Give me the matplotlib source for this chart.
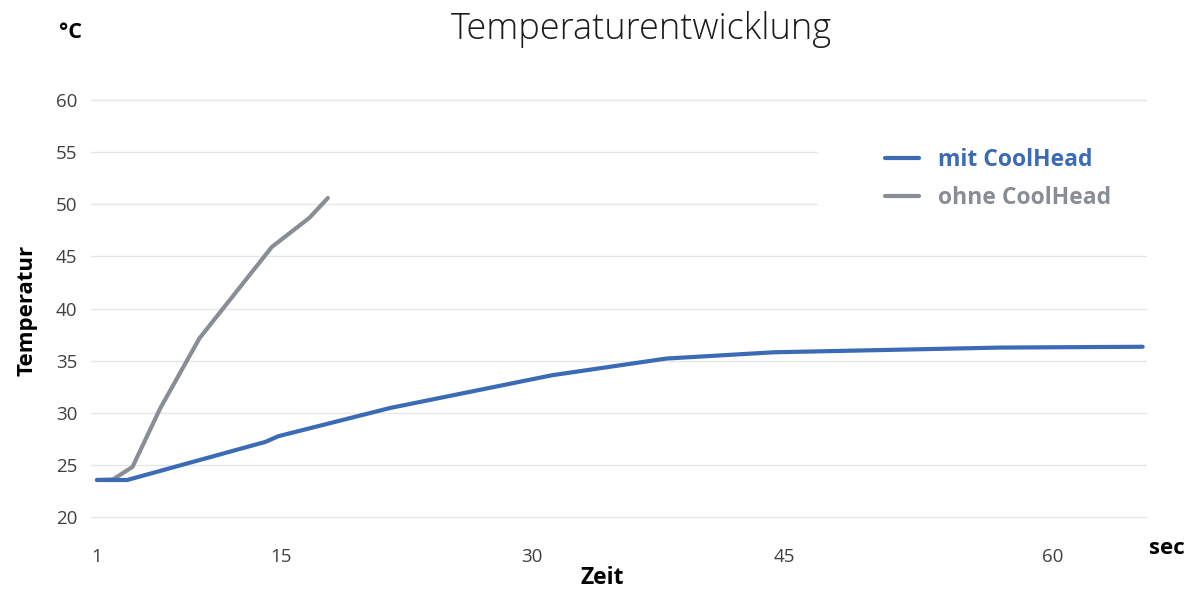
import numpy as np
import matplotlib
matplotlib.use("Agg")
import matplotlib.pyplot as plt
from matplotlib.patches import Rectangle

# ---- data ----
title = "Temperaturentwicklung"
series_names = ["mit CoolHead", "ohne CoolHead"]
time_mit = [1, 3.3, 13.8, 14.8, 21.5, 31.2, 38.0, 44.4, 57.0, 65.0]
temp_mit = [23.55, 23.55, 27.2, 27.75, 30.45, 33.6, 35.2, 35.8, 36.25, 36.33]
time_ohne = [1, 2.2, 3.7, 5.8, 8.8, 14.3, 16.7, 17.8]
temp_ohne = [23.55, 23.6, 24.8, 30.4, 37.15, 45.9, 48.7, 50.6]
x_ticks = [1, 15, 30, 45, 60]
y_ticks = [20, 25, 30, 35, 40, 45, 50, 55, 60]

# ---- uneven category-like time axis (tick label spacing as in original) ----
_kv = np.array([-20, 1, 15, 30, 45, 60, 120], dtype=float)
_kp = np.array([97 - 21 * 13.14, 97, 281, 532, 784, 1053, 1053 + 60 * 17.93])

def fwd(x):
    return np.interp(x, _kv, _kp)

def inv(p):
    return np.interp(p, _kp, _kv)

BLUE = "#3A6BB4"
GREY = "#898D95"
GRID = "#E6E6E6"
TXT = "#404040"

fig = plt.figure(figsize=(11.88, 5.92), dpi=100)
ax = fig.add_axes([91 / 1188, 1 - 517 / 592, (1146 - 91) / 1188, (517 - 100) / 592])
ax.set_xscale("function", functions=(fwd, inv))

for s in ax.spines.values():
    s.set_visible(False)

ax.set_ylim(20, 60)
ax.set_xlim(float(inv(91)), float(inv(1146)))
ax.set_yticks(y_ticks)
ax.set_xticks(x_ticks)
ax.set_xticklabels([str(t) for t in x_ticks])
ax.tick_params(axis="both", length=0, labelsize=13.5, labelcolor=TXT)
ax.tick_params(axis="y", pad=10)
ax.tick_params(axis="x", pad=22)
for lab in ax.get_xticklabels() + ax.get_yticklabels():
    lab.set_fontfamily("Open Sans")
ax.yaxis.grid(True, color=GRID, lw=1, zorder=0)
for gl in ax.get_ygridlines():
    gl.set_clip_on(False)
ax.set_axisbelow(True)

# white legend background covering gridlines
ax.add_patch(Rectangle((0.689, 0.724), 0.32, 0.25, transform=ax.transAxes,
                       facecolor="white", edgecolor="none", zorder=1, clip_on=False))

l2, = ax.plot(time_ohne, temp_ohne, color=GREY, lw=3, solid_capstyle="round",
              solid_joinstyle="round", zorder=3, label=series_names[1])
l1, = ax.plot(time_mit, temp_mit, color=BLUE, lw=3, solid_capstyle="round",
              solid_joinstyle="round", zorder=4, label=series_names[0])

leg = ax.legend(handles=[l1, l2], loc="upper left",
                bbox_to_anchor=(878 / 1188, 1 - 141 / 592), bbox_transform=fig.transFigure,
                frameon=False, handlelength=1.5, handletextpad=0.8, labelspacing=0.62,
                borderaxespad=0, borderpad=0.3,
                prop={"family": "Open Sans", "weight": "bold", "size": 16.5})
for txt, col in zip(leg.get_texts(), [BLUE, GREY]):
    txt.set_color(col)

fig.text(641 / 1188, 1 - 30 / 592, title, ha="center", va="center",
         fontsize=26, fontfamily="Open Sans", fontweight="light", color="#1A1A1A")
fig.text(70 / 1188, 1 - 33 / 592, "°C", ha="center", va="center",
         fontsize=15.5, fontfamily="Open Sans", fontweight="bold", color="black")
fig.text(27 / 1188, 1 - 310 / 592, "Temperatur", ha="center", va="center", rotation=90,
         fontsize=16, fontfamily="Open Sans", fontweight="bold", color="black")
fig.text(602 / 1188, 1 - 578 / 592, "Zeit", ha="center", va="center",
         fontsize=16.5, fontfamily="Open Sans", fontweight="bold", color="black")
fig.text(1167 / 1188, 1 - 548 / 592, "sec", ha="center", va="center",
         fontsize=16, fontfamily="Open Sans", fontweight="bold", color="black")

fig.savefig("out.png", dpi=100, facecolor="white")
